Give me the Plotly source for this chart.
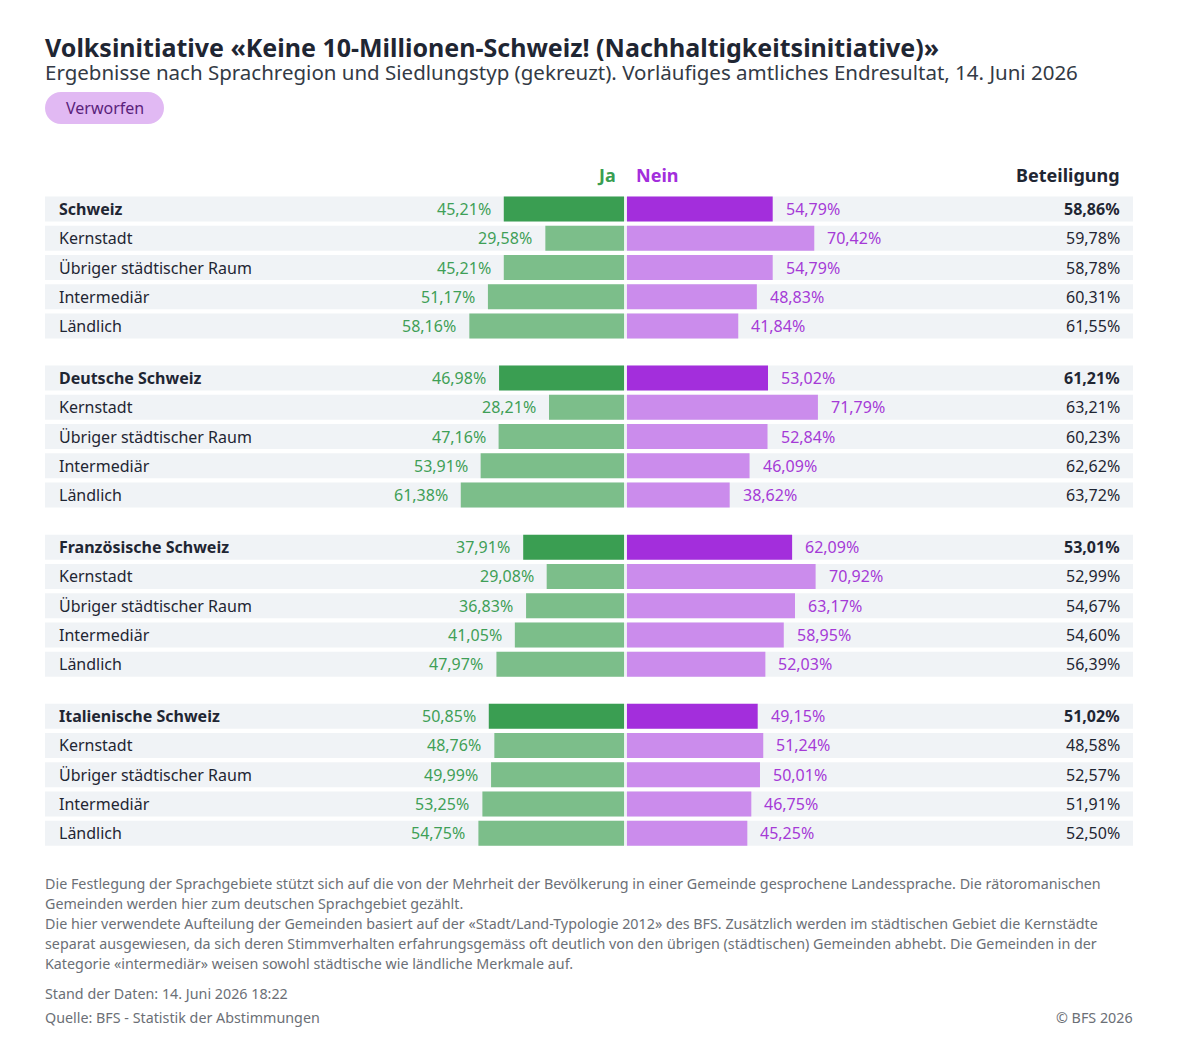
import plotly.graph_objects as go

# data
groups = ["Schweiz", "Deutsche Schweiz", "Französische Schweiz", "Italienische Schweiz"]
types = ["Kernstadt", "Übriger städtischer Raum", "Intermediär", "Ländlich"]

ja_schweiz = [45.21, 29.58, 45.21, 51.17, 58.16]
ja_deutsch = [46.98, 28.21, 47.16, 53.91, 61.38]
ja_franz = [37.91, 29.08, 36.83, 41.05, 47.97]
ja_ital = [50.85, 48.76, 49.99, 53.25, 54.75]

nein_schweiz = [54.79, 70.42, 54.79, 48.83, 41.84]
nein_deutsch = [53.02, 71.79, 52.84, 46.09, 38.62]
nein_franz = [62.09, 70.92, 63.17, 58.95, 52.03]
nein_ital = [49.15, 51.24, 50.01, 46.75, 45.25]

bet_schweiz = [58.86, 59.78, 58.78, 60.31, 61.55]
bet_deutsch = [61.21, 63.21, 60.23, 62.62, 63.72]
bet_franz = [53.01, 52.99, 54.67, 54.60, 56.39]
bet_ital = [51.02, 48.58, 52.57, 51.91, 52.50]

ja_all = [ja_schweiz, ja_deutsch, ja_franz, ja_ital]
nein_all = [nein_schweiz, nein_deutsch, nein_franz, nein_ital]
bet_all = [bet_schweiz, bet_deutsch, bet_franz, bet_ital]

title = "Volksinitiative «Keine 10-Millionen-Schweiz! (Nachhaltigkeitsinitiative)»"
subtitle = "Ergebnisse nach Sprachregion und Siedlungstyp (gekreuzt). Vorläufiges amtliches Endresultat, 14. Juni 2026"
notes = [
    "Die Festlegung der Sprachgebiete stützt sich auf die von der Mehrheit der Bevölkerung in einer Gemeinde gesprochene Landessprache. Die rätoromanischen",
    "Gemeinden werden hier zum deutschen Sprachgebiet gezählt.",
    "Die hier verwendete Aufteilung der Gemeinden basiert auf der «Stadt/Land-Typologie 2012» des BFS. Zusätzlich werden im städtischen Gebiet die Kernstädte",
    "separat ausgewiesen, da sich deren Stimmverhalten erfahrungsgemäss oft deutlich von den übrigen (städtischen) Gemeinden abhebt. Die Gemeinden in der",
    "Kategorie «intermediär» weisen sowohl städtische wie ländliche Merkmale auf.",
]

FONT = "Noto Sans"
JA_DARK, JA_LIGHT, JA_TXT = "#3a9e52", "#7cbe8a", "#3f9f57"
NEIN_DARK, NEIN_LIGHT, NEIN_TXT = "#a32edc", "#cb8cec", "#a53ad6"
ROW_BG = "#f0f3f6"
DARK = "#1f2633"
GREY = "#6b6f76"

OFF = 8                  # the page body adds 8px, so work in page px minus this
W, H = 1163, 1047
L, R = 45 - OFF, 1133 - OFF
TOP, BOT = 185 - OFF, 850 - OFF
GAP = 0.55               # small white gap at the centre line


def fmt(v):
    return f"{v:.2f}".replace(".", ",") + "%"


def px_x(px):
    # px given in reference-page coordinates
    return (px - OFF - L) / (R - L)


def px_y(py):
    return (BOT - (py - OFF)) / (BOT - TOP)


# flatten rows, group rows get a spacer after every block
labels, ja, nein, bet, pos, is_group = [], [], [], [], [], []
for g, name in enumerate(groups):
    rows = [name] + types
    for r, lab in enumerate(rows):
        labels.append(lab)
        ja.append(ja_all[g][r])
        nein.append(nein_all[g][r])
        bet.append(bet_all[g][r])
        pos.append(g * 5.78 + r)
        is_group.append(r == 0)

fig = go.Figure()
fig.add_trace(go.Bar(
    y=pos, x=[-v for v in ja], base=-GAP, orientation="h", width=0.855,
    marker=dict(color=[JA_DARK if gr else JA_LIGHT for gr in is_group], line=dict(width=0)),
    hoverinfo="skip", showlegend=False))
fig.add_trace(go.Bar(
    y=pos, x=nein, base=GAP, orientation="h", width=0.855,
    marker=dict(color=[NEIN_DARK if gr else NEIN_LIGHT for gr in is_group], line=dict(width=0)),
    hoverinfo="skip", showlegend=False))

shapes = []
ann = []
for i in range(len(pos)):
    shapes.append(dict(type="rect", xref="paper", yref="y", x0=0, x1=1,
                       y0=pos[i] - 0.4275, y1=pos[i] + 0.4275,
                       fillcolor=ROW_BG, line=dict(width=0), layer="below"))
    lab = f"<b>{labels[i]}</b>" if is_group[i] else labels[i]
    ann.append(dict(xref="paper", yref="y", x=0, y=pos[i], xanchor="left", xshift=12,
                    text=lab, showarrow=False, font=dict(size=16, color=DARK, family=FONT)))
    ann.append(dict(xref="x", yref="y", x=-GAP - ja[i], y=pos[i], xanchor="right", xshift=-11,
                    text=fmt(ja[i]), showarrow=False, font=dict(size=16, color=JA_TXT, family=FONT)))
    ann.append(dict(xref="x", yref="y", x=GAP + nein[i], y=pos[i], xanchor="left", xshift=11,
                    text=fmt(nein[i]), showarrow=False, font=dict(size=16, color=NEIN_TXT, family=FONT)))
    b = f"<b>{fmt(bet[i])}</b>" if is_group[i] else fmt(bet[i])
    ann.append(dict(xref="paper", yref="y", x=1, y=pos[i], xanchor="right", xshift=-11,
                    text=b, showarrow=False, font=dict(size=16, color=DARK, family=FONT)))

# headers
ann.append(dict(xref="x", yref="paper", x=0, y=px_y(175), xanchor="right", yanchor="middle", xshift=-8,
                text="<b>Ja</b>", showarrow=False, font=dict(size=18, color=JA_DARK, family=FONT)))
ann.append(dict(xref="x", yref="paper", x=0, y=px_y(175), xanchor="left", yanchor="middle", xshift=8,
                text="<b>Nein</b>", showarrow=False, font=dict(size=18, color=NEIN_DARK, family=FONT)))
ann.append(dict(xref="paper", yref="paper", x=1, y=px_y(175), xanchor="right", yanchor="middle", xshift=-11,
                text="<b>Beteiligung</b>", showarrow=False, font=dict(size=18, color=DARK, family=FONT)))

# title block: title and subtitle in one text so the lines sit tight
head = (f"<span style='font-size:25px;color:{DARK}'><b>{title}</b></span>"
        f"<br><span style='font-size:20.5px'>{subtitle}</span>")
ann.append(dict(xref="paper", yref="paper", x=0, y=px_y(28), xanchor="left", yanchor="top", xshift=-2,
                text=head, align="left", showarrow=False,
                font=dict(size=17.5, color="#333a45", family=FONT)))

# pill "Verworfen"
x0, x1, y0, y1, rad = 45, 164, 92, 124, 16
k = rad * 0.5523


def P(px, py):
    return f"{px_x(px):.5f},{px_y(py):.5f}"


path = (f"M {P(x0 + rad, y0)} L {P(x1 - rad, y0)} "
        f"C {P(x1 - rad + k, y0)} {P(x1, y0 + rad - k)} {P(x1, y0 + rad)} "
        f"C {P(x1, y1 - rad + k)} {P(x1 - rad + k, y1)} {P(x1 - rad, y1)} "
        f"L {P(x0 + rad, y1)} "
        f"C {P(x0 + rad - k, y1)} {P(x0, y1 - rad + k)} {P(x0, y1 - rad)} "
        f"C {P(x0, y0 + rad - k)} {P(x0 + rad - k, y0)} {P(x0 + rad, y0)} Z")
shapes.append(dict(type="path", xref="paper", yref="paper", path=path,
                   fillcolor="#e1b9f3", line=dict(width=0)))
ann.append(dict(xref="paper", yref="paper", x=px_x((x0 + x1) / 2), y=px_y((y0 + y1) / 2),
                xanchor="center", yanchor="middle", text="Verworfen", showarrow=False,
                font=dict(size=16, color="#5a1f7b", family=FONT)))

# footnotes
for j, line in enumerate(notes):
    ann.append(dict(xref="paper", yref="paper", x=0, y=px_y(883 + j * 20.2), xanchor="left",
                    yanchor="middle", xshift=-2, text=line, showarrow=False,
                    font=dict(size=14.3, color=GREY, family=FONT)))
ann.append(dict(xref="paper", yref="paper", x=0, y=px_y(993), xanchor="left", yanchor="middle", xshift=-2,
                text="Stand der Daten: 14. Juni 2026 18:22", showarrow=False,
                font=dict(size=14.3, color=GREY, family=FONT)))
ann.append(dict(xref="paper", yref="paper", x=0, y=px_y(1018), xanchor="left", yanchor="middle", xshift=-2,
                text="Quelle: BFS - Statistik der Abstimmungen", showarrow=False,
                font=dict(size=14.3, color=GREY, family=FONT)))
ann.append(dict(xref="paper", yref="paper", x=1, y=px_y(1018), xanchor="right", yanchor="middle", xshift=2,
                text="© BFS 2026", showarrow=False,
                font=dict(size=14.3, color=GREY, family=FONT)))

zero_px = 625.5 - OFF
scale = 2.66
fig.update_layout(
    width=W, height=H,
    margin=dict(l=L, r=W - R, t=TOP, b=H - BOT, pad=0),
    paper_bgcolor="white", plot_bgcolor="white",
    barmode="overlay",
    xaxis=dict(range=[-(zero_px - L) / scale, (R - zero_px) / scale], visible=False, fixedrange=True),
    yaxis=dict(range=[(BOT - (209 - OFF)) / 29.25, -((209 - OFF) - TOP) / 29.25], visible=False, fixedrange=True),
    shapes=shapes, annotations=ann,
    font=dict(family=FONT),
)

fig.write_html("out.html")
